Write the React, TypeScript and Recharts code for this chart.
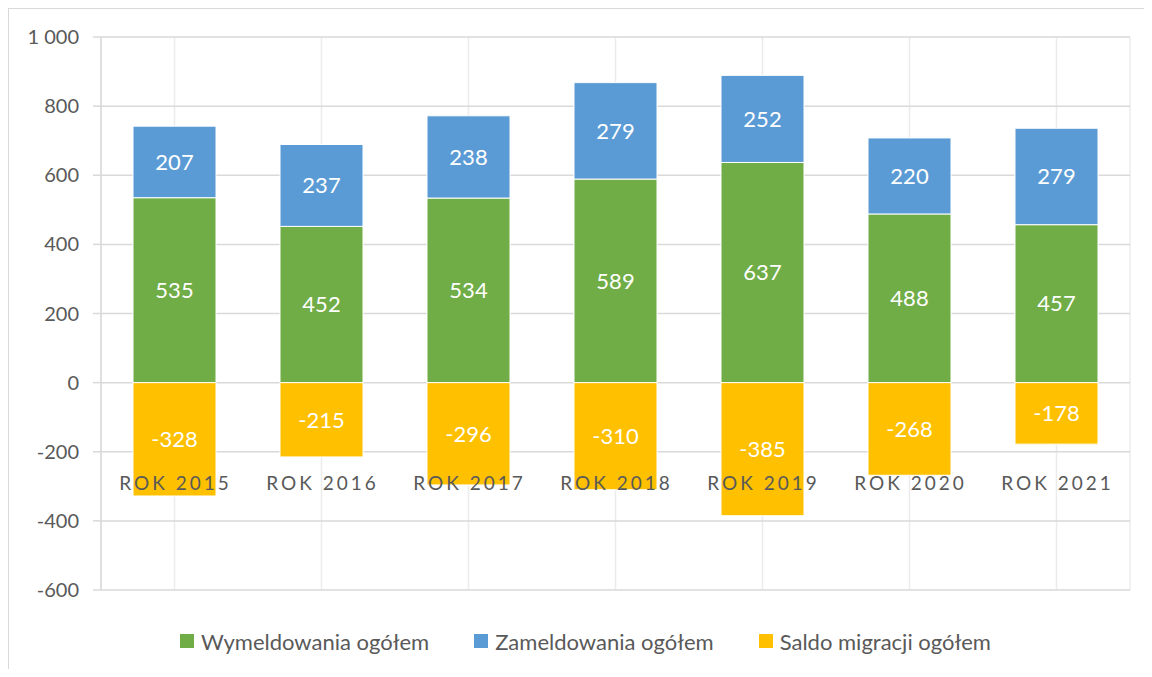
import React from 'react';
import { BarChart, Bar, XAxis, YAxis, CartesianGrid, Legend, LabelList } from 'recharts';

const years = ['ROK 2015', 'ROK 2016', 'ROK 2017', 'ROK 2018', 'ROK 2019', 'ROK 2020', 'ROK 2021'];
const wymeldowania = [535, 452, 534, 589, 637, 488, 457];
const zameldowania = [207, 237, 238, 279, 252, 220, 279];
const saldo = [-328, -215, -296, -310, -385, -268, -178];
const yTicks = [-600, -400, -200, 0, 200, 400, 600, 800, 1000];

const series = [
  { key: 'wym', name: 'Wymeldowania ogółem', color: '#70AD47' },
  { key: 'zam', name: 'Zameldowania ogółem', color: '#5B9BD5' },
  { key: 'saldo', name: 'Saldo migracji ogółem', color: '#FFC000' },
];

const data = years.map((year, i) => ({
  year,
  wym: wymeldowania[i],
  zam: zameldowania[i],
  saldo: saldo[i],
}));

const FONT = 'Lato, "Open Sans", sans-serif';
const TEXT = '#595959';

const formatTick = (v: number) => {
  const s = String(Math.abs(v)).replace(/\B(?=(\d{3})+(?!\d))/g, ' ');
  return v < 0 ? '-' + s : s;
};

// category labels sit up inside the plot, like in the original
const CategoryTick = (props: any) => {
  const { x, y, payload } = props;
  return (
    <text
      x={x + 1}
      y={y - 116}
      textAnchor="middle"
      dominantBaseline="central"
      fill={TEXT}
      fontSize={19}
      letterSpacing={3}
      fontFamily={FONT}
    >
      {payload.value}
    </text>
  );
};

const LegendContent = () => (
  <div style={{ display: 'flex', alignItems: 'center', height: 24, paddingLeft: 180, fontFamily: FONT }}>
    {series.map((s, i) => (
      <div key={s.key} style={{ display: 'flex', alignItems: 'center', marginLeft: i === 0 ? 0 : 45 }}>
        <span style={{ width: 14, height: 14, background: s.color, display: 'inline-block', marginRight: 7 }} />
        <span style={{ fontSize: 22, color: TEXT }}>{s.name}</span>
      </div>
    ))}
  </div>
);

export default function App() {
  return (
    <div style={{ position: 'relative', width: 1152, height: 677, margin: -8, overflow: 'hidden', background: '#fff' }}>
      <div
        style={{
          position: 'absolute',
          left: 7,
          top: 7,
          width: 1136,
          height: 700,
          borderLeft: '2px solid #d9d9d9',
          borderTop: '2px solid #d9d9d9',
        }}
      />
      <BarChart
        width={1152}
        height={677}
        data={data}
        stackOffset="sign"
        margin={{ top: 37, right: 22, left: 0, bottom: 24 }}
      >
        <CartesianGrid vertical horizontal={false} stroke="#ececec" strokeWidth={1.5} />
        <CartesianGrid vertical={false} stroke="#d9d9d9" strokeWidth={1.5} />
        <XAxis
          dataKey="year"
          axisLine={false}
          tickLine={false}
          height={39}
          tick={<CategoryTick />}
          interval={0}
        />
        <YAxis
          domain={[-600, 1000]}
          ticks={yTicks}
          width={101}
          tickFormatter={formatTick}
          axisLine={{ stroke: '#d9d9d9', strokeWidth: 1.5 }}
          tickLine={{ stroke: '#d9d9d9', strokeWidth: 1.5 }}
          tickSize={8}
          tickMargin={14}
          tick={{ fill: TEXT, fontSize: 20, fontFamily: FONT }}
          interval={0}
        />
        <Legend verticalAlign="bottom" content={<LegendContent />} />
        {series.map((s) => (
          <Bar
            key={s.key}
            dataKey={s.key}
            name={s.name}
            stackId="a"
            fill={s.color}
            stroke="#ffffff"
            strokeWidth={1}
            barSize={83}
            isAnimationActive={false}
          >
            <LabelList dataKey={s.key} position="center" fill="#ffffff" fontSize={22} fontFamily={FONT} />
          </Bar>
        ))}
      </BarChart>
    </div>
  );
}
